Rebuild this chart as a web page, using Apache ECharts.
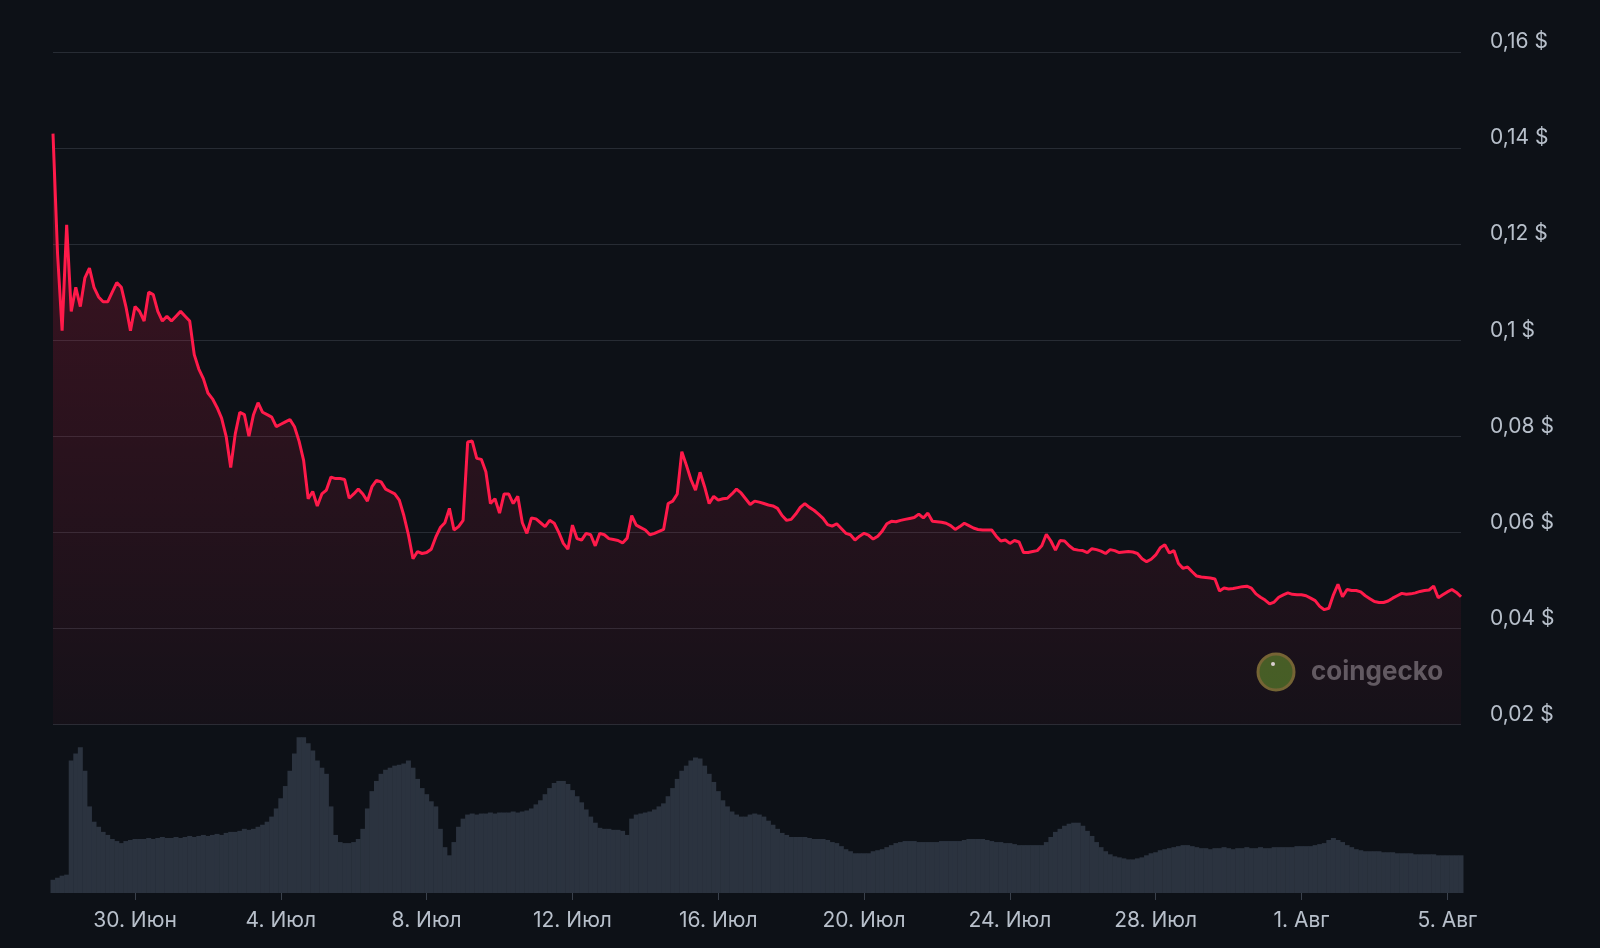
<!DOCTYPE html>
<html>
<head>
<meta charset="utf-8">
<title>Price chart</title>
<script src="https://cdn.jsdelivr.net/npm/echarts@6.0.0/dist/echarts.min.js"></script>
<style>
  html, body { margin: 0; padding: 0; background: #0d1117; }
  #chart { width: 1600px; height: 948px; }
</style>
</head>
<body>
<div id="chart"></div>
<script>
  // данные: цена и объём с шагом 3 часа, начиная с 27.06 18:00
  const startTime = Date.UTC(2024, 5, 27, 18);
  const stepMs = 3 * 3600 * 1000;

  const prices = [
    0.143, 0.118, 0.102, 0.124, 0.106, 0.111, 0.107, 0.113, 0.115, 0.111,
    0.109, 0.108, 0.108, 0.110, 0.112, 0.111, 0.107, 0.102, 0.107, 0.106,
    0.104, 0.110, 0.1095, 0.106, 0.104, 0.105, 0.104, 0.105, 0.106, 0.105,
    0.104, 0.097, 0.094, 0.092, 0.089, 0.0878, 0.086, 0.0838, 0.080, 0.0735,
    0.0805, 0.085, 0.0845, 0.080, 0.0845, 0.087, 0.085, 0.0845, 0.084, 0.082,
    0.0825, 0.083, 0.0835, 0.082, 0.079, 0.075, 0.067, 0.0685, 0.0655, 0.068,
    0.0688, 0.0715, 0.0712, 0.0712, 0.071, 0.0671, 0.068, 0.069, 0.068, 0.0665,
    0.0695, 0.0708, 0.0705, 0.069, 0.0685, 0.068, 0.0667, 0.0635, 0.0595, 0.0545,
    0.056, 0.0556, 0.0558, 0.0565, 0.059, 0.061, 0.062, 0.065, 0.0605, 0.0612,
    0.0625, 0.0788, 0.079, 0.0754, 0.0752, 0.0726, 0.066, 0.067, 0.064, 0.068,
    0.068, 0.066, 0.0675, 0.062, 0.0598, 0.063, 0.0628, 0.062, 0.0612, 0.0625,
    0.0619, 0.060, 0.0577, 0.0565, 0.0615, 0.0587, 0.0584, 0.0598, 0.0595, 0.0572,
    0.0598, 0.0595, 0.0587, 0.0585, 0.0583, 0.0578, 0.0588, 0.0635, 0.0615, 0.061,
    0.0605, 0.0595, 0.0598, 0.0602, 0.0606, 0.066, 0.0665, 0.068, 0.0768, 0.074,
    0.071, 0.0688, 0.0725, 0.0695, 0.066, 0.0675, 0.0667, 0.067, 0.0671, 0.068,
    0.069, 0.0682, 0.067, 0.0658, 0.0665, 0.0663, 0.066, 0.0657, 0.0655, 0.065,
    0.0635, 0.0625, 0.0627, 0.0638, 0.0652, 0.066, 0.0652, 0.0646, 0.0638, 0.0629,
    0.0616, 0.0613, 0.0618, 0.0608, 0.0598, 0.0595, 0.0584, 0.0592, 0.0598, 0.0594,
    0.0586, 0.0592, 0.0603, 0.0618, 0.0623, 0.0622, 0.0625, 0.0627, 0.0629, 0.0631,
    0.0638, 0.063, 0.064, 0.0623, 0.0622, 0.0621, 0.0619, 0.0614, 0.0606, 0.0612,
    0.0619, 0.0614, 0.0609, 0.0606, 0.0605, 0.0605, 0.0605, 0.0592, 0.0582, 0.0584,
    0.0577, 0.0583, 0.058, 0.0558, 0.0558, 0.056, 0.0562, 0.0572, 0.0596, 0.0582,
    0.0563, 0.0583, 0.0582, 0.0572, 0.0565, 0.0563, 0.0562, 0.0558, 0.0566, 0.0564,
    0.0561, 0.0556, 0.0564, 0.0562, 0.0558, 0.0559, 0.056, 0.0559, 0.0556, 0.0545,
    0.0539, 0.0544, 0.0553, 0.0568, 0.0574, 0.0557, 0.0562, 0.0535, 0.0525, 0.0528,
    0.0518, 0.0509, 0.0507, 0.0506, 0.0505, 0.0503, 0.0478, 0.0484, 0.0482, 0.0483,
    0.0485, 0.0487, 0.0488, 0.0484, 0.0472, 0.0465, 0.0459, 0.0451, 0.0455, 0.0465,
    0.047, 0.0474, 0.0471, 0.047, 0.047, 0.0468, 0.0463, 0.0458, 0.0446, 0.0439,
    0.0442, 0.047, 0.0492, 0.0466, 0.0481, 0.0479, 0.0479, 0.0476, 0.0468, 0.0462,
    0.0456, 0.0454, 0.0454, 0.0457, 0.0463, 0.0468, 0.0473, 0.0471, 0.0472, 0.0474,
    0.0477, 0.0479, 0.048, 0.0488, 0.0464, 0.047, 0.0476, 0.0481, 0.0475, 0.0466
  ];

  // объём торгов, тыс. $
  const volumes = [
    130, 150, 170, 180, 1300, 1370, 1430, 1200, 850, 700,
    650, 600, 570, 530, 510, 490, 510, 520, 530, 530,
    530, 540, 530, 540, 550, 540, 540, 550, 540, 550,
    560, 550, 560, 570, 560, 570, 580, 570, 590, 600,
    600, 610, 630, 620, 630, 650, 670, 700, 750, 830,
    930, 1050, 1200, 1370, 1530, 1530, 1470, 1400, 1300, 1230,
    1170, 850, 570, 500, 490, 490, 500, 530, 630, 830,
    1000, 1100, 1170, 1210, 1230, 1250, 1260, 1270, 1300, 1230,
    1120, 1030, 970, 900, 850, 630, 450, 370, 500, 650,
    730, 770, 780, 770, 780, 780, 790, 780, 790, 790,
    790, 800, 790, 800, 810, 830, 870, 910, 970, 1030,
    1080, 1100, 1100, 1070, 1010, 950, 890, 820, 750, 690,
    640, 630, 630, 620, 620, 610, 570, 730, 770, 780,
    790, 800, 820, 850, 880, 950, 1030, 1120, 1200, 1250,
    1300, 1330, 1320, 1250, 1170, 1090, 1000, 910, 850, 800,
    770, 750, 750, 770, 780, 770, 750, 710, 670, 630,
    590, 570, 550, 550, 550, 550, 540, 530, 530, 530,
    520, 500, 490, 460, 430, 410, 390, 390, 390, 390,
    410, 420, 430, 450, 470, 490, 500, 510, 510, 510,
    500, 500, 500, 500, 500, 510, 510, 510, 510, 510,
    520, 530, 530, 530, 530, 520, 510, 500, 500, 490,
    490, 480, 470, 470, 470, 470, 470, 470, 500, 550,
    600, 630, 660, 680, 690, 690, 660, 610, 560, 500,
    450, 410, 380, 360, 350, 340, 330, 330, 340, 350,
    370, 390, 400, 420, 430, 440, 450, 460, 470, 470,
    460, 450, 440, 440, 430, 440, 440, 450, 440, 430,
    440, 440, 450, 440, 440, 450, 440, 440, 450, 450,
    450, 450, 450, 460, 460, 460, 460, 470, 480, 490,
    520, 540, 520, 500, 470, 450, 430, 420, 410, 410,
    410, 410, 400, 400, 400, 390, 390, 390, 390, 380,
    380, 380, 380, 380, 370, 370, 370, 370, 370, 370
  ];

  const xTickTimes = [
    Date.UTC(2024, 5, 30), Date.UTC(2024, 6, 4), Date.UTC(2024, 6, 8),
    Date.UTC(2024, 6, 12), Date.UTC(2024, 6, 16), Date.UTC(2024, 6, 20),
    Date.UTC(2024, 6, 24), Date.UTC(2024, 6, 28), Date.UTC(2024, 7, 1),
    Date.UTC(2024, 7, 5)
  ];
  const xTickLabels = ['30. Июн', '4. Июл', '8. Июл', '12. Июл', '16. Июл',
    '20. Июл', '24. Июл', '28. Июл', '1. Авг', '5. Авг'];

  const yTicks = [0.02, 0.04, 0.06, 0.08, 0.1, 0.12, 0.14, 0.16];
  const yTickLabels = ['0,02 $', '0,04 $', '0,06 $', '0,08 $', '0,1 $', '0,12 $', '0,14 $', '0,16 $'];

  function nearestLabel(ticks, labels, v) {
    let best = 0;
    for (let k = 1; k < ticks.length; k++) {
      if (Math.abs(ticks[k] - v) < Math.abs(ticks[best] - v)) best = k;
    }
    return labels[best];
  }

  const endTime = startTime + (prices.length - 1) * stepMs;
  const priceData = prices.map((p, i) => [startTime + i * stepMs, p]);
  const volumeData = volumes.map((v, i) => [startTime + i * stepMs, v]);

  const labelColor = '#b8c0cb';
  const font = 'Inter, "Noto Sans", sans-serif';

  const chart = echarts.init(document.getElementById('chart'));
  const option = {
    backgroundColor: '#0d1117',
    animation: false,
    grid: [
      { left: 53, right: 139, top: 52, bottom: 223.5 },
      { left: 53, right: 139, top: 730, bottom: 55 }
    ],
    xAxis: [
      { type: 'value', gridIndex: 0, min: startTime, max: endTime, show: false },
      {
        type: 'value',
        gridIndex: 1,
        min: startTime,
        max: endTime,
        axisLine: { show: false },
        splitLine: { show: false },
        axisTick: {
          show: true,
          customValues: xTickTimes,
          length: 7,
          lineStyle: { color: '#3a414c' }
        },
        axisLabel: {
          customValues: xTickTimes,
          color: labelColor,
          fontFamily: font,
          fontSize: 21,
          margin: 17,
          formatter: (v) => nearestLabel(xTickTimes, xTickLabels, v)
        }
      }
    ],
    yAxis: [
      {
        type: 'value',
        gridIndex: 0,
        position: 'right',
        min: 0.02,
        max: 0.16,
        interval: 0.02,
        axisLine: { show: false },
        axisTick: { show: false },
        splitLine: { lineStyle: { color: '#272c34', width: 1 } },
        axisLabel: {
          color: labelColor,
          fontFamily: font,
          fontSize: 21,
          margin: 29,
          verticalAlign: 'middle',
          lineHeight: 20,
          // пустая вторая строка поднимает подпись над линией сетки
          formatter: (v) => nearestLabel(yTicks, yTickLabels, v) + '\n '
        }
      },
      { type: 'value', gridIndex: 1, min: 0, max: 1600, show: false }
    ],
    series: [
      {
        name: 'Цена',
        type: 'line',
        xAxisIndex: 0,
        yAxisIndex: 0,
        showSymbol: false,
        data: priceData,
        lineStyle: { color: '#ff1a4a', width: 3 },
        itemStyle: { color: '#ff1a4a' },
        areaStyle: {
          color: new echarts.graphic.LinearGradient(0, 0, 0, 1, [
            { offset: 0, color: 'rgba(255, 26, 74, 0.3)' },
            { offset: 1, color: 'rgba(255, 26, 74, 0.05)' }
          ])
        }
      },
      {
        name: 'Объём',
        type: 'bar',
        xAxisIndex: 1,
        yAxisIndex: 1,
        barWidth: 5,
        data: volumeData,
        itemStyle: { color: '#2b333f' }
      }
    ],
    graphic: [
      {
        type: 'circle',
        shape: { cx: 1276, cy: 672, r: 18 },
        style: { fill: '#3d6124', stroke: '#6e6833', lineWidth: 3 }
      },
      {
        type: 'circle',
        shape: { cx: 1273, cy: 664, r: 2 },
        style: { fill: '#d8d8d8' }
      },
      {
        type: 'text',
        x: 1311,
        y: 672,
        style: {
          text: 'coingecko',
          fill: '#5a5d63',
          font: 'bold 26px ' + font,
          verticalAlign: 'middle'
        }
      }
    ]
  };
  chart.setOption(option);
</script>
</body>
</html>
